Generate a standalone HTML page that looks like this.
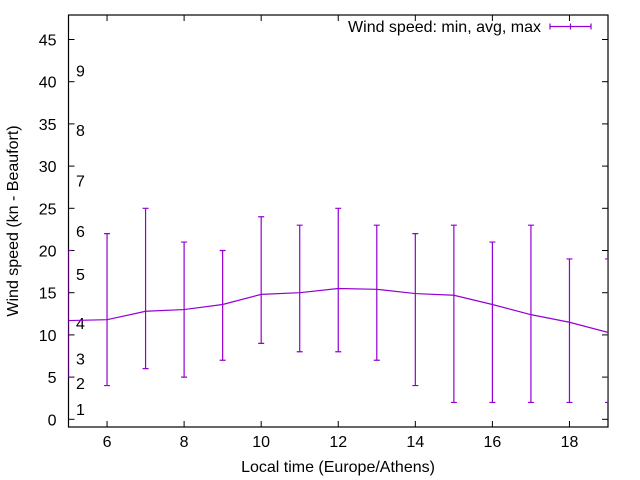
<!DOCTYPE html>
<html><head><meta charset="utf-8"><style>
body{margin:0;background:#fff}
svg{display:block;font-family:"Liberation Sans",sans-serif}
</style></head><body>
<svg id="c" width="640" height="480"></svg>
<script>
const hours=[5,6,7,8,9,10,11,12,13,14,15,16,17,18,19];
const avgSpeed=[11.7,11.8,12.8,13,13.6,14.8,15,15.5,15.4,14.9,14.7,13.6,12.4,11.5,10.3];
const minSpeed=[5,4,6,5,7,9,8,8,7,4,2,2,2,2,2];
const maxSpeed=[20,22,25,21,20,24,23,25,23,22,23,21,23,19,19];
const yTicks=[0,5,10,15,20,25,30,35,40,45];
const xTicks=[6,8,10,12,14,16,18];
const beaufortLabels=["1","2","3","4","5","6","7","8","9"];
const beaufortValues=[1.2,4.3,7.2,11.4,17.2,22.3,28.3,34.3,41.3];
const L=68.5,R=608,T=15,B=427;
const FS='16';
const X=v=>L+(v-5)*(R-L)/14;
const Y=v=>419.3-v*8.44;
const svg=document.getElementById('c');
const NS='http://www.w3.org/2000/svg';
function el(t,a,p){const e=document.createElementNS(NS,t);for(const k in a)e.setAttribute(k,a[k]);(p||svg).appendChild(e);return e;}
const defs=el('defs',{});const cp=el('clipPath',{id:'pa'},defs);el('rect',{x:L,y:T,width:R-L,height:B-T},cp);
const ax=el('g',{});


yTicks.forEach(v=>{const y=Y(v);
el('line',{x1:L,x2:L+6,y1:y,y2:y,stroke:'#000'},ax);
el('line',{x1:R,x2:R-6,y1:y,y2:y,stroke:'#000'},ax);
const t=el('text',{x:L-12,y:y+6,'text-anchor':'end','font-size':FS,fill:'#000'},ax);t.textContent=v;

});
xTicks.forEach(v=>{const x=X(v);
el('line',{x1:x,x2:x,y1:B,y2:B-6,stroke:'#000'},ax);
el('line',{x1:x,x2:x,y1:T,y2:T+6,stroke:'#000'},ax);
const t=el('text',{x:x,y:B+20,'text-anchor':'middle','font-size':FS,fill:'#000'},ax);t.textContent=v;

});
el('rect',{x:L,y:T,width:R-L,height:B-T,fill:'none',stroke:'#000','stroke-width':1.2},ax);
beaufortLabels.forEach((s,i)=>{const t=el('text',{x:76,y:Y(beaufortValues[i])+6,'font-size':FS,fill:'#000'});t.textContent=s;

});
const g=el('g',{'clip-path':'url(#pa)',stroke:'#9400d3','stroke-width':1.2,fill:'none'});


hours.forEach((h,i)=>{const x=X(h);
const b=el('path',{d:`M${x},${Y(minSpeed[i])}V${Y(maxSpeed[i])}M${x-3},${Y(minSpeed[i])}h6M${x-3},${Y(maxSpeed[i])}h6`},g);

});
const ln=el('polyline',{points:hours.map((h,i)=>X(h)+','+Y(avgSpeed[i])).join(' ')},g);


const lg=el('g',{});


const lt=el('text',{x:541,y:32,'text-anchor':'end','font-size':FS,fill:'#000'},lg);lt.textContent='Wind speed: min, avg, max';
el('path',{d:'M550,26.5H591M550,23.5v6M591,23.5v6M570.5,23.5v6',stroke:'#9400d3','stroke-width':1.2},lg);
const xt=el('text',{x:338,y:472,'text-anchor':'middle','font-size':FS,fill:'#000'});xt.textContent='Local time (Europe/Athens)';


const yt=el('text',{x:0,y:0,'text-anchor':'middle','font-size':FS,fill:'#000',transform:'translate(18,221) rotate(-90)'});yt.textContent='Wind speed (kn - Beaufort)';


</script>
</body></html>
